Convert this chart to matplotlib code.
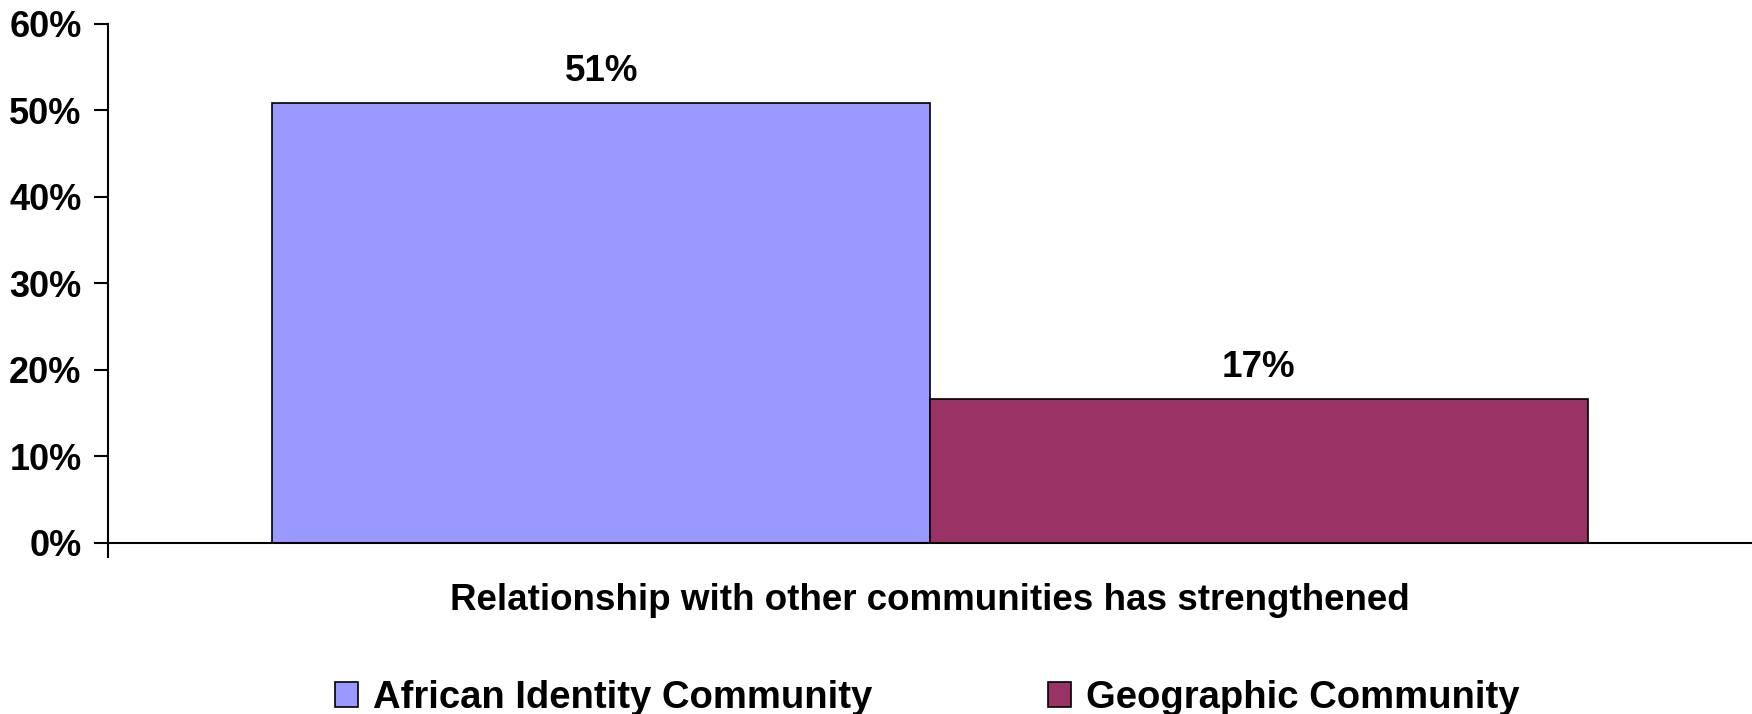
import matplotlib
matplotlib.use("Agg")
import matplotlib.pyplot as plt
from matplotlib.ticker import FuncFormatter

plt.rcParams['font.family'] = ['Liberation Sans', 'DejaVu Sans']
plt.rcParams['font.weight'] = 'bold'

category = "Relationship with other communities has strengthened"
series_names = ["African Identity Community", "Geographic Community"]
values = [0.508, 0.166]
labels = ["51%", "17%"]
colors = ["#9999FF", "#993366"]
yticks = [0, 0.1, 0.2, 0.3, 0.4, 0.5, 0.6]

fig = plt.figure(figsize=(17.52, 7.14), dpi=100)
ax = fig.add_axes([108/1752, 1-543/714, 1-108/1752, (543-23.5)/714])

positions = [-0.5, 0.5]
for pos, v, c, name, lab in zip(positions, values, colors, series_names, labels):
    ax.bar(pos, v, width=1.0, color=c, edgecolor='black', linewidth=1.2, label=name)
    ax.text(pos, v + 0.016, lab, ha='center', va='bottom', fontsize=26.5, fontweight='bold')

ax.set_xlim(-1.25, 1.25)
ax.set_ylim(0, 0.6)
ax.set_yticks(yticks)
ax.yaxis.set_major_formatter(FuncFormatter(lambda y, _: f"{y*100:.0f}%"))
ax.tick_params(axis='y', direction='out', length=10, width=1.5, labelsize=26, pad=9)
ax.set_xticks([-1.25])
ax.set_xticklabels([""])
ax.tick_params(axis='x', direction='out', length=11, width=1.5)
for s in ['top', 'right']:
    ax.spines[s].set_visible(False)
for s in ['left', 'bottom']:
    ax.spines[s].set_linewidth(1.5)
for t in ax.get_yticklabels():
    t.set_fontweight('bold')

fig.text((108 + 1752) / 2 / 1752, 1 - 601/714, category, ha='center', va='center',
         fontsize=26.5, fontweight='bold')

leg = fig.legend(loc='center', bbox_to_anchor=(927.5/1752, 1 - 698/714), ncol=2, frameon=False,
                 handlelength=0.6, handleheight=0.6, handletextpad=0.4,
                 columnspacing=4.6, prop={'weight': 'bold', 'size': 27.5})

fig.savefig("out.png", dpi=100)
